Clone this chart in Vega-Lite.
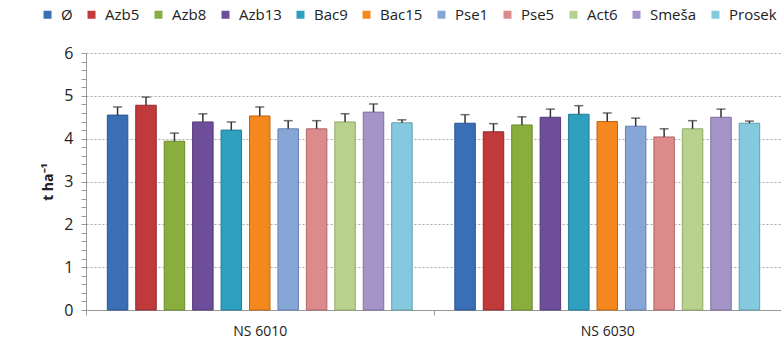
{
  "$schema": "https://vega.github.io/schema/vega-lite/v6.json",
  "width": 695,
  "height": 257,
  "autosize": "none",
  "padding": {"left": 86, "top": 53, "right": 0, "bottom": 31},
  "background": "white",
  "config": {"view": {"stroke": null}, "font": "Open Sans"},
  "data": {"values": [
    {"group": "NS 6010", "series": "Ø", "value": 4.55, "upper": 4.74},
    {"group": "NS 6010", "series": "Azb5", "value": 4.78, "upper": 4.97},
    {"group": "NS 6010", "series": "Azb8", "value": 3.94, "upper": 4.13},
    {"group": "NS 6010", "series": "Azb13", "value": 4.39, "upper": 4.58},
    {"group": "NS 6010", "series": "Bac9", "value": 4.2, "upper": 4.39},
    {"group": "NS 6010", "series": "Bac15", "value": 4.53, "upper": 4.74},
    {"group": "NS 6010", "series": "Pse1", "value": 4.23, "upper": 4.42},
    {"group": "NS 6010", "series": "Pse5", "value": 4.23, "upper": 4.42},
    {"group": "NS 6010", "series": "Act6", "value": 4.39, "upper": 4.58},
    {"group": "NS 6010", "series": "Smeša", "value": 4.62, "upper": 4.81},
    {"group": "NS 6010", "series": "Prosek", "value": 4.37, "upper": 4.44},
    {"group": "NS 6030", "series": "Ø", "value": 4.36, "upper": 4.56},
    {"group": "NS 6030", "series": "Azb5", "value": 4.16, "upper": 4.35},
    {"group": "NS 6030", "series": "Azb8", "value": 4.32, "upper": 4.51},
    {"group": "NS 6030", "series": "Azb13", "value": 4.5, "upper": 4.69},
    {"group": "NS 6030", "series": "Bac9", "value": 4.57, "upper": 4.77},
    {"group": "NS 6030", "series": "Bac15", "value": 4.4, "upper": 4.6},
    {"group": "NS 6030", "series": "Pse1", "value": 4.29, "upper": 4.48},
    {"group": "NS 6030", "series": "Pse5", "value": 4.04, "upper": 4.23},
    {"group": "NS 6030", "series": "Act6", "value": 4.23, "upper": 4.42},
    {"group": "NS 6030", "series": "Smeša", "value": 4.5, "upper": 4.69},
    {"group": "NS 6030", "series": "Prosek", "value": 4.36, "upper": 4.41}
  ]},
  "encoding": {
    "x": {
      "field": "group", "type": "nominal", "title": null,
      "scale": {"paddingInner": 0, "paddingOuter": 0},
      "axis": {"labelAngle": 0, "labelFontSize": 14, "labelColor": "#222", "domainColor": "#999", "tickColor": "#999", "tickSize": 5, "tickBand": "extent", "labelPadding": 9}
    },
    "xOffset": {
      "field": "series", "type": "nominal", "sort": null,
      "scale": {"domain": ["Ø", "Azb5", "Azb8", "Azb13", "Bac9", "Bac15", "Pse1", "Pse5", "Act6", "Smeša", "Prosek"], "paddingInner": 0.28, "paddingOuter": 0.75}
    },
    "y": {
      "field": "value", "type": "quantitative",
      "scale": {"domain": [0, 6], "nice": false},
      "title": "t ha⁻¹",
      "axis": {
        "values": [0, 0.2, 0.4, 0.6, 0.8, 1, 1.2, 1.4, 1.6, 1.8, 2, 2.2, 2.4, 2.6, 2.8, 3, 3.2, 3.4, 3.6, 3.8, 4, 4.2, 4.4, 4.6, 4.8, 5, 5.2, 5.4, 5.6, 5.8, 6],
        "labelExpr": "round(datum.value * 10) % 10 == 0 ? '' + round(datum.value) : ''",
        "labelOverlap": false,
        "grid": true,
        "gridColor": "#aaaaaa",
        "gridOpacity": {"condition": {"test": "round(datum.value * 10) % 10 == 0", "value": 1}, "value": 0},
        "gridDash": [2, 2],
        "domainColor": "#999",
        "tickColor": "#999",
        "tickSize": 5,
        "labelFontSize": 16,
        "labelColor": "#222",
        "labelPadding": 8,
        "titleFontSize": 14,
        "titleFontWeight": "bold",
        "titleColor": "#222",
        "titlePadding": 8
      }
    }
  },
  "layer": [
    {
      "mark": {"type": "bar", "strokeWidth": 1},
      "encoding": {
        "color": {
          "field": "series", "type": "nominal", "sort": null, "title": null,
          "scale": {
            "domain": ["Ø", "Azb5", "Azb8", "Azb13", "Bac9", "Bac15", "Pse1", "Pse5", "Act6", "Smeša", "Prosek"],
            "range": ["#3a6fb5", "#c0393b", "#8aae3e", "#6e4d9b", "#2e9fbf", "#f5871f", "#86a6d8", "#dc8a8a", "#b8d28e", "#a594c8", "#84c9de"]
          },
          "legend": {
            "orient": "none", "legendX": -46, "legendY": -46, "direction": "horizontal", "columns": 11,
            "symbolType": "square", "symbolSize": 64, "symbolStrokeWidth": 0, "labelFontSize": 15, "labelColor": "#222",
            "columnPadding": 11, "labelOffset": 6
          }
        },
        "stroke": {
          "field": "series", "type": "nominal", "sort": null, "legend": null,
          "scale": {
            "domain": ["Ø", "Azb5", "Azb8", "Azb13", "Bac9", "Bac15", "Pse1", "Pse5", "Act6", "Smeša", "Prosek"],
            "range": ["#2a5590", "#922a2c", "#6a8a2c", "#523a78", "#237b94", "#c06510", "#6380b0", "#b06868", "#90aa6a", "#8070a0", "#60a0b4"]
          }
        }
      }
    },
    {
      "mark": {"type": "rule", "color": "#333", "strokeWidth": 1.5},
      "encoding": {
        "y2": {"field": "upper"}
      }
    },
    {
      "mark": {"type": "tick", "color": "#333", "thickness": 1.5, "size": 9},
      "encoding": {
        "y": {"field": "upper", "type": "quantitative"}
      }
    }
  ]
}
